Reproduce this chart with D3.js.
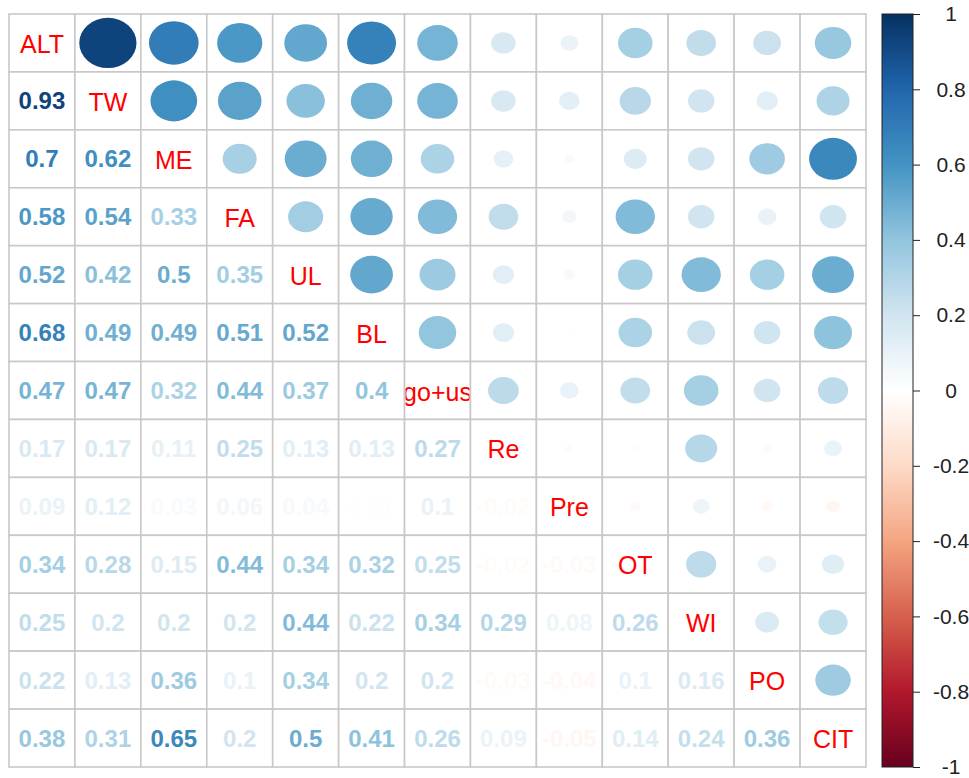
<!DOCTYPE html>
<html lang="en">
<head>
  <meta charset="UTF-8">
  <title>Correlation matrix</title>
  <style>
    body { margin: 0; background: #fff; }
    svg { display: block; font-family: "Liberation Sans", Arial, sans-serif; }
    .num { font-weight: bold; font-size: 24px; }
    .diag { font-size: 25px; fill: #ff0000; }
    .legend text { font-size: 21px; fill: #222; }
  </style>
</head>
<body>
  <svg id="chart" width="969" height="778"></svg>
  <script src="https://d3js.org/d3.v7.min.js"></script>
  <script>
    const labels = ['ALT', 'TW', 'ME', 'FA', 'UL', 'BL', 'go+us', 'Re', 'Pre', 'OT', 'WI', 'PO', 'CIT']

    // lower triangle, row i holds correlations with columns 0..i-1
    const lowerRows = [
      [],
      [0.93],
      [0.7, 0.62],
      [0.58, 0.54, 0.33],
      [0.52, 0.42, 0.5, 0.35],
      [0.68, 0.49, 0.49, 0.51, 0.52],
      [0.47, 0.47, 0.32, 0.44, 0.37, 0.4],
      [0.17, 0.17, 0.11, 0.25, 0.13, 0.13, 0.27],
      [0.09, 0.12, 0.03, 0.06, 0.04, 0.01, 0.1, -0.02],
      [0.34, 0.28, 0.15, 0.44, 0.34, 0.32, 0.25, -0.02, -0.03],
      [0.25, 0.2, 0.2, 0.2, 0.44, 0.22, 0.34, 0.29, 0.08, 0.26],
      [0.22, 0.13, 0.36, 0.1, 0.34, 0.2, 0.2, -0.03, -0.04, 0.1, 0.16],
      [0.38, 0.31, 0.65, 0.2, 0.5, 0.41, 0.26, 0.09, -0.05, 0.14, 0.24, 0.36]
    ]

    const paletteColors = ['#67001F', '#B2182B', '#D6604D', '#F4A582', '#FDDBC7', '#FFFFFF',
      '#D1E5F0', '#92C5DE', '#4393C3', '#2166AC', '#053061']
    const legendTicks = [1, 0.8, 0.6, 0.4, 0.2, 0, -0.2, -0.4, -0.6, -0.8, -1]

    const svg = d3.select('#chart')

    const x = d3.scaleBand().domain(labels).range([9, 866])
    const y = d3.scaleBand().domain(labels).range([14, 767])
    const cw = x.bandwidth()
    const ch = y.bandwidth()

    const color = d3.scaleLinear()
      .domain(d3.range(paletteColors.length).map(i => -1 + 2 * i / (paletteColors.length - 1)))
      .range(paletteColors)
      .interpolate(d3.interpolateRgb)

    const fmt = v => String(+v.toFixed(2))

    // build full list of cells
    const cells = []
    labels.forEach((r, i) => {
      labels.forEach((c, j) => {
        let v = null
        if (i > j) v = lowerRows[i][j]
        else if (j > i) v = lowerRows[j][i]
        cells.push({ row: r, col: c, i, j, v })
      })
    })

    const defs = svg.append('defs')

    // grid
    svg.append('g')
      .selectAll('rect')
      .data(cells)
      .join('rect')
      .attr('x', d => x(d.col))
      .attr('y', d => y(d.row))
      .attr('width', cw)
      .attr('height', ch)
      .attr('fill', '#fff')
      .attr('stroke', '#c8c8c8')
      .attr('stroke-width', 1.6)

    // upper triangle: circles (stretched with the cell)
    svg.append('g')
      .selectAll('ellipse')
      .data(cells.filter(d => d.j > d.i))
      .join('ellipse')
      .attr('cx', d => x(d.col) + cw / 2)
      .attr('cy', d => y(d.row) + ch / 2)
      .attr('rx', d => 0.45 * Math.sqrt(Math.abs(d.v)) * cw)
      .attr('ry', d => 0.45 * Math.sqrt(Math.abs(d.v)) * ch)
      .attr('fill', d => color(d.v))

    // lower triangle: numbers
    svg.append('g')
      .selectAll('text')
      .data(cells.filter(d => d.i > d.j))
      .join('text')
      .attr('class', 'num')
      .attr('x', d => x(d.col) + cw / 2)
      .attr('y', d => y(d.row) + ch / 2)
      .attr('text-anchor', 'middle')
      .attr('dominant-baseline', 'central')
      .attr('fill', d => color(d.v))
      .text(d => fmt(d.v))

    // diagonal labels, clipped to their cell
    const diag = svg.append('g')
    labels.forEach((l, i) => {
      defs.append('clipPath').attr('id', 'clip' + i)
        .append('rect')
        .attr('x', x(l) + 1).attr('y', y(l) + 1)
        .attr('width', cw - 2).attr('height', ch - 2)
      diag.append('text')
        .attr('class', 'diag')
        .attr('clip-path', `url(#clip${i})`)
        .attr('x', x(l) + cw / 2)
        .attr('y', y(l) + ch / 2 + 1)
        .attr('text-anchor', 'middle')
        .attr('dominant-baseline', 'central')
        .text(l)
    })

    // colour legend
    const ly = d3.scaleLinear().domain([-1, 1]).range([767, 14])
    const grad = defs.append('linearGradient')
      .attr('id', 'legendGrad')
      .attr('x1', 0).attr('y1', 1).attr('x2', 0).attr('y2', 0)
    d3.range(0, 1.0001, 0.02).forEach(t => {
      grad.append('stop').attr('offset', t).attr('stop-color', color(-1 + 2 * t))
    })

    const legend = svg.append('g').attr('class', 'legend')
    legend.append('rect')
      .attr('x', 882).attr('y', ly(1))
      .attr('width', 31).attr('height', ly(-1) - ly(1))
      .attr('fill', 'url(#legendGrad)')
      .attr('stroke', '#222')
      .attr('stroke-width', 1)

    const axis = d3.axisRight(ly).tickValues(legendTicks).tickSize(7).tickFormat(fmt)
    const ag = legend.append('g').attr('transform', 'translate(913,0)').call(axis)
    ag.select('.domain').remove()
    ag.selectAll('.tick line').attr('stroke', '#222')
    ag.selectAll('.tick text')
      .attr('x', 38)
      .attr('text-anchor', 'middle')
      .attr('font-family', '"Liberation Sans", Arial, sans-serif')
      .attr('font-size', 21)
      .attr('fill', '#222')
  </script>
</body>
</html>
